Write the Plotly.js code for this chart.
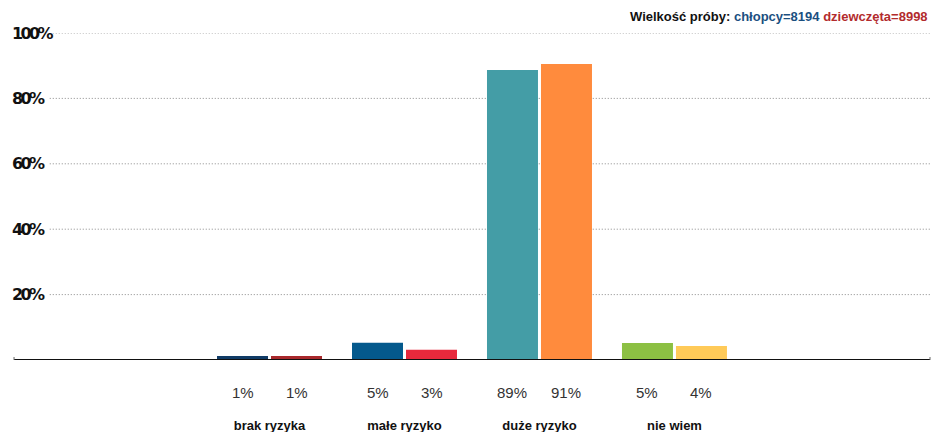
<!DOCTYPE html>
<html>
<head>
<meta charset="utf-8">
<script src="https://cdn.plot.ly/plotly-3.0.1.min.js"></script>
<style>html,body{margin:0;padding:0;background:#fff}#chart{width:932px;height:432px}</style>
</head>
<body>
<div id="chart"></div>
<script>
// ---- data ----
var categories = ["brak ryzyka", "małe ryzyko", "duże ryzyko", "nie wiem"];
var boysValues = [1.2, 5.3, 88.7, 5.2];
var girlsValues = [1.2, 3.1, 90.5, 4.3];
var boysLabels = ["1%", "5%", "89%", "5%"];
var girlsLabels = ["1%", "3%", "91%", "4%"];
var boysColors = ["#103b66", "#04598c", "#449da6", "#8cc043"];
var girlsColors = ["#a8282b", "#e8293c", "#ff8b3d", "#ffca58"];
var yTickVals = [20, 40, 60, 80, 100];
var yTickText = ["20%", "40%", "60%", "80%", "100%"];
var sampleBoys = 8194;
var sampleGirls = 8998;

var idx = categories.map(function (c, i) { return i; });

var traces = [
  { type: "bar", name: "chłopcy", x: idx, y: boysValues,
    marker: { color: boysColors, line: { width: 0 } }, hoverinfo: "none" },
  { type: "bar", name: "dziewczęta", x: idx, y: girlsValues,
    marker: { color: girlsColors, line: { width: 0 } }, hoverinfo: "none" }
];

var pctFont = { family: "Liberation Sans, Arial", size: 15, color: "#333" };
var annotations = [];
var off = 0.2;
idx.forEach(function (i) {
  annotations.push({ x: i - off, xref: "x", y: -0.1, yref: "paper", yanchor: "middle",
    text: boysLabels[i], showarrow: false, font: pctFont });
  annotations.push({ x: i + off, xref: "x", y: -0.1, yref: "paper", yanchor: "middle",
    text: girlsLabels[i], showarrow: false, font: pctFont });
});
yTickVals.forEach(function (v, k) {
  annotations.push({ x: -0.043, xref: "paper", xanchor: "left", y: v, yref: "y", yanchor: "middle",
    text: "<span style='letter-spacing:-2.6px'>" + yTickText[k] + "</span>", showarrow: false,
    font: { family: "DejaVu Sans", stretch: "condensed", weight: "bold", size: 16, color: "#111" } });
});
annotations.push({
  x: 1, xref: "paper", xanchor: "right", y: 1.049, yref: "paper", yanchor: "middle",
  text: "<b>Wielkość próby: <span style='color:#1b4f7f'>chłopcy=" + sampleBoys +
        "</span> <span style='color:#b22b2d'>dziewczęta=" + sampleGirls + "</span></b>",
  showarrow: false, font: { family: "Liberation Sans, Arial", size: 13, color: "#111" }
});

var shapes = [];
yTickVals.forEach(function (v) {
  shapes.push({ type: "line", xref: "paper", yref: "y", x0: 0.002, x1: 1, y0: v, y1: v,
    line: { color: "#8a8a8a", width: 1, dash: "1px,2px" }, layer: "below" });
});
// baseline axis line
shapes.push({ type: "line", xref: "paper", yref: "y", x0: -0.0385, x1: 1, y0: 0, y1: 0,
  line: { color: "#111", width: 2 }, layer: "above" });
shapes.push({ type: "line", xref: "paper", yref: "y", ysizemode: "pixel", yanchor: 0,
  x0: -0.0385, x1: -0.0385, y0: -3, y1: 3, line: { color: "#666", width: 1 } });
shapes.push({ type: "line", xref: "paper", yref: "y", ysizemode: "pixel", yanchor: 0,
  x0: 1, x1: 1, y0: -3, y1: 3, line: { color: "#666", width: 1 } });

var layout = {
  width: 932, height: 432,
  margin: { l: 48, r: 2, t: 33, b: 72, pad: 0 },
  paper_bgcolor: "#fff", plot_bgcolor: "#fff",
  showlegend: false,
  barmode: "group", bargap: 0.2, bargroupgap: 0.0556,
  xaxis: { type: "linear", range: [-1.641, 4.893], tickvals: idx, ticktext: categories,
    showgrid: false, zeroline: false, showline: false, ticks: "",
    ticklabelstandoff: 56,
    tickfont: { family: "Liberation Sans, Arial", size: 13, color: "#111", weight: "bold" } },
  yaxis: { range: [0, 100], showgrid: false, zeroline: false, showline: false,
    showticklabels: false, ticks: "" },
  annotations: annotations,
  shapes: shapes
};

Plotly.newPlot("chart", traces, layout, { displayModeBar: false, staticPlot: true });
</script>
</body>
</html>
